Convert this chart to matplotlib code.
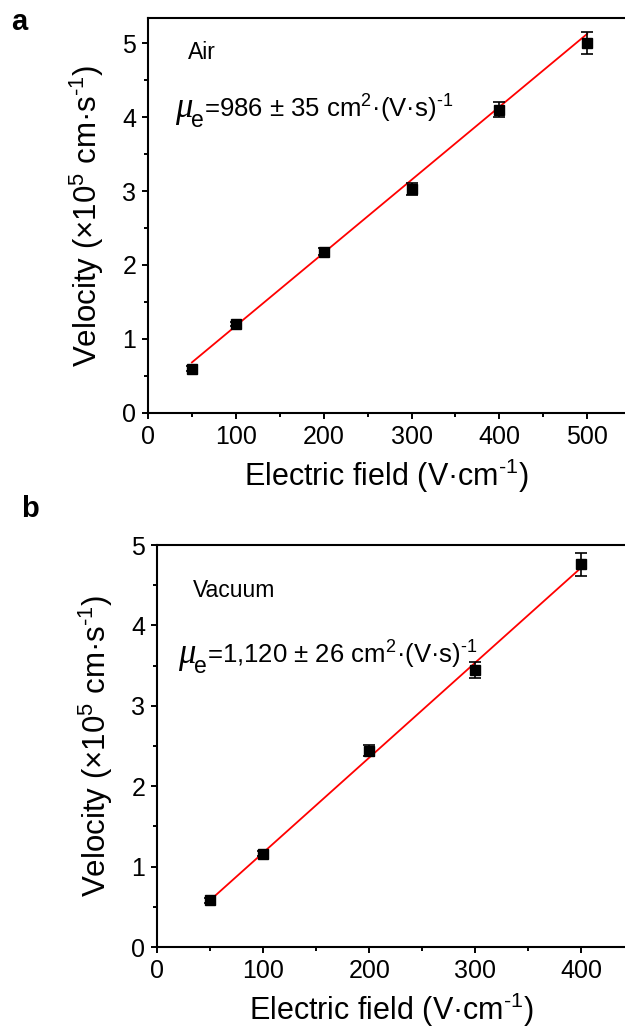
import numpy as np
import matplotlib.pyplot as plt
from matplotlib.ticker import MultipleLocator

plt.rcParams['font.family'] = ['Liberation Sans', 'DejaVu Sans']
plt.rcParams['mathtext.fontset'] = 'custom'
plt.rcParams['mathtext.rm'] = 'Liberation Sans'
plt.rcParams['mathtext.it'] = 'Liberation Sans:italic'

# panel a: air
field_a = [50, 100, 200, 300, 400, 500]
vel_a = [0.60, 1.20, 2.18, 3.03, 4.10, 5.00]
err_a = [0.03, 0.03, 0.05, 0.08, 0.10, 0.15]
fit_a = (0.00987, 0.19)   # slope, intercept

# panel b: vacuum
field_b = [50, 100, 200, 300, 400]
vel_b = [0.58, 1.16, 2.44, 3.45, 4.76]
err_b = [0.03, 0.03, 0.07, 0.10, 0.14]
fit_b = (0.01183, -0.01)

HY = '\u2010'  # hyphen used in the superscripts
XLABEL = 'Electric field (V·cm$^{\\mathrm{' + HY + '1}}$)'
YLABEL = 'Velocity (×10$^{5}$ cm·s$^{\\mathrm{' + HY + '1}}$)'


def mobility_text(ax, x, y, value):
    # big italic mu, lowered "e", then the rest on the mu baseline
    t_mu = ax.text(x, y, 'μ', fontsize=25, family='Liberation Serif', style='italic',
                   va='baseline', ha='left')
    t_e = ax.annotate('e', xy=(1, 0), xycoords=t_mu, xytext=(-1, -5),
                      textcoords='offset points', fontsize=16.5, va='bottom', ha='left')
    ax.annotate('=' + value + ' cm$^{2}$·(V·s)$^{\\mathrm{' + HY + '1}}$',
                xy=(1, 0), xycoords=(t_e, t_mu), xytext=(0, 5.4),
                textcoords='offset points', fontsize=18.5, va='baseline', ha='left')


def draw_panel(ax, x, y, err, fit, xlim, ylim, label, label_pos, mu_value, mu_pos):
    xs = np.array([x[0], x[-1]])
    ax.plot(xs, fit[0] * xs + fit[1], color='red', lw=1.3, zorder=2)
    ax.errorbar(x, y, yerr=err, fmt='s', color='black', ms=6.5, capsize=4,
                elinewidth=1.2, capthick=1.2, zorder=3)
    ax.set_xlim(*xlim)
    ax.set_ylim(*ylim)
    ax.xaxis.set_major_locator(MultipleLocator(100))
    ax.xaxis.set_minor_locator(MultipleLocator(50))
    ax.yaxis.set_major_locator(MultipleLocator(1))
    ax.yaxis.set_minor_locator(MultipleLocator(0.5))
    ax.tick_params(which='major', direction='out', length=4.5, width=1.4, labelsize=18, pad=4)
    ax.tick_params(which='minor', direction='out', length=3, width=1.4)
    for s in ['left', 'bottom', 'top']:
        ax.spines[s].set_linewidth(1.5)
    ax.spines['right'].set_visible(False)
    ax.set_xlabel(XLABEL, fontsize=22, labelpad=6)
    ax.set_ylabel(YLABEL, fontsize=22.5, labelpad=12)
    ax.text(label_pos[0], label_pos[1], label, fontsize=16.5, va='baseline')
    mobility_text(ax, mu_pos[0], mu_pos[1], mu_value)


fig = plt.figure(figsize=(6.25, 10.36), dpi=100)
ax_a = fig.add_axes([0.2368, 0.6014, 0.7632, 0.3813])
ax_b = fig.add_axes([0.2512, 0.0859, 0.7488, 0.388])

draw_panel(ax_a, field_a, vel_a, err_a, fit_a, (0, 543), (0, 5.34),
           'Air', (45, 4.79), '986 ± 35', (31, 4.0))
draw_panel(ax_b, field_b, vel_b, err_b, fit_b, (0, 441), (0, 5),
           'Vacuum', (34, 4.35), '1,120 ± 26', (20, 3.53))

fig.text(0.018, 0.992, 'a', fontsize=21, fontweight='bold', va='top')
fig.text(0.034, 0.522, 'b', fontsize=21, fontweight='bold', va='top')

fig.savefig('out.png', dpi=100)
